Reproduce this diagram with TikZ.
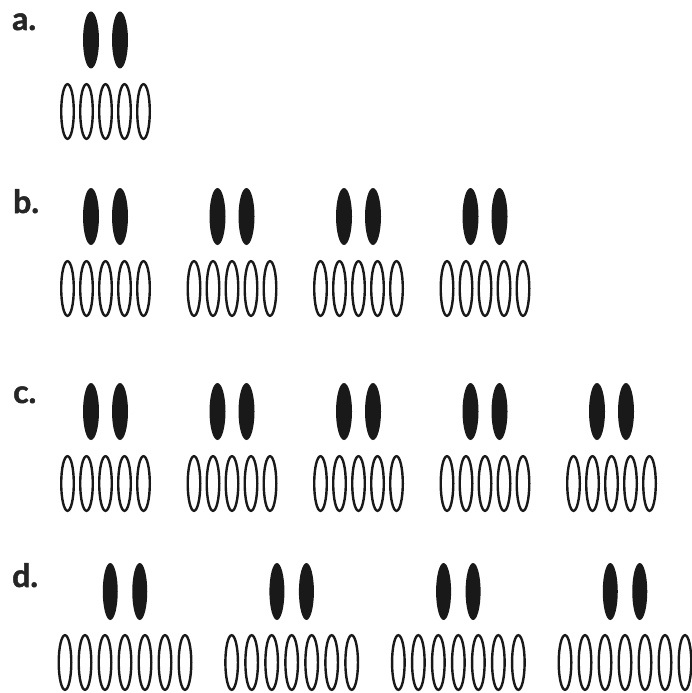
\documentclass[tikz,border=0pt]{standalone}
\usepackage{fontspec}
\newfontfamily\labfont[BoldFeatures={FakeBold=1.6}]{Lato}
\begin{document}
\begin{tikzpicture}[x=1pt,y=-1pt,
  rowlabel/.style={anchor=base west,inner sep=0pt,font=\labfont\bfseries\fontsize{32}{32}\selectfont,text=black!85},
  solidell/.style={fill=black!90},
  openell/.style={draw=black!90,line width=2.4pt}]
\useasboundingbox (0,0) rectangle (692,693);
% labels
\node[rowlabel] (la) at (12,30) {a.};
\node[rowlabel] (lb) at (13,213) {b.};
\node[rowlabel] (lc) at (13,403) {c.};
\node[rowlabel] (ld) at (12,587) {d.};
% rows a--c: groups of 2 solid over 5 open
\foreach \yf/\yo/\n in {40/111.5/0, 216.5/288.5/3, 411.5/483.5/4}{
  \foreach \k in {0,...,\n}{
    \pgfmathsetmacro{\cx}{105.5+126.5*\k}
    \fill[solidell] (\cx-14.5,\yf) ellipse [x radius=8, y radius=28.5];
    \fill[solidell] (\cx+14.5,\yf) ellipse [x radius=8, y radius=28.5];
    \foreach \i in {-2,...,2}{
      \draw[openell] (\cx+19*\i,\yo) ellipse [x radius=6.3, y radius=27.3];
    }
  }
}
% row d: groups of 2 solid over 7 open
\foreach \k in {0,...,3}{
  \pgfmathsetmacro{\cx}{125+166.67*\k}
  \fill[solidell] (\cx-14.75,591.5) ellipse [x radius=7.5, y radius=28.5];
  \fill[solidell] (\cx+14.75,591.5) ellipse [x radius=7.5, y radius=28.5];
  \foreach \i in {-3,...,3}{
    \draw[openell] (\cx+20*\i,662.5) ellipse [x radius=6.3, y radius=27.3];
  }
}
\end{tikzpicture}
\end{document}
